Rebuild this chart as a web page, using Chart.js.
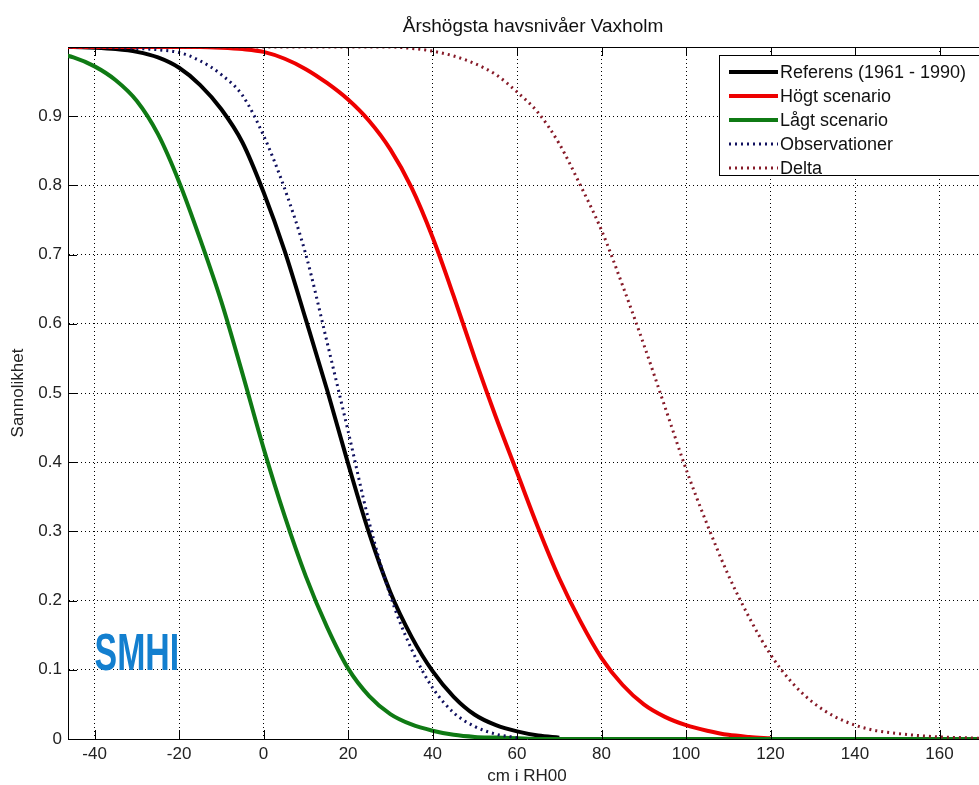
<!DOCTYPE html>
<html>
<head>
<meta charset="utf-8">
<title>Årshögsta havsnivåer Vaxholm</title>
<script src="https://cdn.jsdelivr.net/npm/chart.js@4/dist/chart.umd.min.js"></script>
<style>
  html, body { margin: 0; padding: 0; background: #fff; overflow: hidden; }
  #wrap { position: relative; width: 1000px; height: 785px; }
</style>
</head>
<body>
<div id="wrap"><canvas id="grafico"></canvas></div>
<script>
// Nivå i cm (RH00), gemensam x för alla kurvor
const nivaer = [-50, -45, -40, -35, -30, -25, -20, -15, -10, -5, 0, 5, 10, 15, 20, 25, 30, 35, 40, 45,
    50, 55, 60, 65, 70, 75, 80, 85, 90, 95, 100, 105, 110, 115, 120, 125, 130, 135, 140, 145,
    150, 155, 160, 165, 170, 175, 180];

// Sannolikhet per kurva
const referens = [1, 1, 0.999, 0.997, 0.993, 0.985, 0.97, 0.945, 0.91, 0.862, 0.79, 0.705, 0.606, 0.505,
    0.398, 0.297, 0.212, 0.148, 0.098, 0.061, 0.035, 0.02, 0.011, 0.005, 0.002];
const hogt = [1, 1, 1, 1, 1, 1, 1, 1, 0.999, 0.997, 0.993, 0.983, 0.968, 0.948, 0.924, 0.893, 0.852,
    0.797, 0.725, 0.64, 0.55, 0.465, 0.385, 0.305, 0.232, 0.17, 0.117, 0.078, 0.05, 0.032, 0.02,
    0.012, 0.006, 0.003, 0.001];
const lagt = [0.992, 0.985, 0.972, 0.952, 0.922, 0.874, 0.805, 0.722, 0.632, 0.528, 0.42, 0.322, 0.235,
    0.162, 0.102, 0.062, 0.036, 0.021, 0.012, 0.006, 0.003, 0.002, 0.001, 0, 0, 0, 0, 0, 0, 0, 0, 0, 0,
    0, 0, 0, 0, 0, 0, 0, 0, 0, 0, 0, 0, 0, 0];
const observationer = [1, 1, 1, 0.999, 0.998, 0.996, 0.992, 0.98, 0.96, 0.93, 0.872, 0.795, 0.7, 0.574,
    0.445, 0.313, 0.207, 0.13, 0.074, 0.038, 0.018, 0.007, 0.002];
const delta = [1, 1, 1, 1, 1, 1, 1, 1, 1, 1, 1, 1, 1, 1, 1, 1, 1, 0.998, 0.994, 0.987, 0.976, 0.96,
    0.935, 0.905, 0.86, 0.8, 0.735, 0.655, 0.57, 0.48, 0.39, 0.31, 0.237, 0.175, 0.122, 0.082,
    0.053, 0.033, 0.02, 0.012, 0.008, 0.005, 0.003, 0.002, 0.001, 0.001, 0];

// Axelns skalstreck
const xTicks = [-40, -20, 0, 20, 40, 60, 80, 100, 120, 140, 160];
const yTicks = [0, 0.1, 0.2, 0.3, 0.4, 0.5, 0.6, 0.7, 0.8, 0.9];

const FONT = '"Liberation Sans", Arial, sans-serif';
const punkter = (ys) => ys.map((y, i) => ({ x: nivaer[i], y }));

const datos = {
    datasets: [
        { label: 'Referens (1961 - 1990)', data: punkter(referens), borderColor: '#000000', borderWidth: 4, order: 5 },
        { label: 'Högt scenario', data: punkter(hogt), borderColor: '#ee0000', borderWidth: 4, order: 4 },
        { label: 'Lågt scenario', data: punkter(lagt), borderColor: '#0f7a14', borderWidth: 4, order: 3 },
        { label: 'Observationer', data: punkter(observationer), borderColor: '#10105e', borderWidth: 3, borderDash: [2, 4], order: 2 },
        { label: 'Delta', data: punkter(delta), borderColor: '#861a28', borderWidth: 3, borderDash: [2, 4], order: 1 }
    ]
};

// Ram, inåtriktade skalstreck, titel, logga och förklaring
const ramPlugin = {
    id: 'ram',
    beforeDatasetsDraw(chart) {
        const { ctx, scales: { x, y } } = chart;
        const x0 = x.getPixelForValue(-40), x1 = x.getPixelForValue(-20);
        const yb = y.getPixelForValue(0.1), yt = y.getPixelForValue(0.154);
        ctx.save();
        ctx.fillStyle = '#137fcf';
        ctx.font = 'bold 52px ' + FONT;
        ctx.textBaseline = 'alphabetic';
        const w = ctx.measureText('SMHI').width;
        const h = yb - yt;
        ctx.translate(x0, yb);
        ctx.scale((x1 - x0) / w, h / (52 * 0.716));
        ctx.fillText('SMHI', 0, 0);
        ctx.restore();
    },
    afterDraw(chart) {
        const { ctx, chartArea: a, scales: { x, y } } = chart;
        ctx.save();
        ctx.strokeStyle = '#000';
        ctx.lineWidth = 1;
        ctx.beginPath();
        ctx.moveTo(a.left, a.top + 0.5);
        ctx.lineTo(a.right, a.top + 0.5);
        xTicks.forEach(v => {
            const px = Math.round(x.getPixelForValue(v)) + 0.5;
            ctx.moveTo(px, a.bottom);
            ctx.lineTo(px, a.bottom - 9);
            ctx.moveTo(px, a.top);
            ctx.lineTo(px, a.top + 9);
        });
        yTicks.forEach(v => {
            const py = Math.round(y.getPixelForValue(v)) + 0.5;
            ctx.moveTo(a.left, py);
            ctx.lineTo(a.left + 9, py);
        });
        ctx.stroke();

        // Titel
        ctx.fillStyle = '#111';
        ctx.font = '19px ' + FONT;
        ctx.textAlign = 'center';
        ctx.textBaseline = 'alphabetic';
        ctx.fillText('Årshögsta havsnivåer Vaxholm', (a.left + a.right) / 2 + 6, 32);

        // Förklaring
        const bx = 719, by = 55, bh = 120;
        ctx.fillStyle = '#fff';
        ctx.fillRect(bx, by, 400, bh);
        ctx.strokeRect(bx + 0.5, by + 0.5, 400, bh);
        ctx.font = '18px ' + FONT;
        ctx.textAlign = 'left';
        ctx.textBaseline = 'middle';
        chart.data.datasets.forEach((ds, i) => {
            const ry = by + 17 + i * 24;
            ctx.beginPath();
            ctx.strokeStyle = ds.borderColor;
            ctx.lineWidth = ds.borderWidth;
            ctx.setLineDash(ds.borderDash || []);
            ctx.moveTo(bx + 10, ry);
            ctx.lineTo(bx + 59, ry);
            ctx.stroke();
            ctx.setLineDash([]);
            ctx.fillStyle = '#111';
            ctx.fillText(ds.label, bx + 61, ry + 1);
        });
        ctx.restore();
    }
};

const opciones = {
    responsive: true,
    maintainAspectRatio: false,
    animation: false,
    layout: { padding: { top: 47, right: 14, left: 0, bottom: 0 } },
    elements: {
        point: { radius: 0 },
        line: { cubicInterpolationMode: 'monotone', borderCapStyle: 'butt', fill: false }
    },
    plugins: { legend: { display: false }, tooltip: { enabled: false } },
    scales: {
        x: {
            type: 'linear',
            min: -46.3,
            max: 171,
            afterBuildTicks: (s) => { s.ticks = xTicks.map(v => ({ value: v })); },
            afterFit: (s) => { s.height = 46; },
            grid: { color: '#000', lineWidth: 1, drawTicks: false },
            border: { color: '#000', width: 1, dash: [1, 3] },
            ticks: { color: '#222', font: { family: FONT, size: 17 }, padding: 5, maxRotation: 0, callback: (v) => String(v) },
            title: { display: true, text: 'cm i RH00', color: '#222', font: { family: FONT, size: 17, lineHeight: 1 }, padding: 0 }
        },
        y: {
            min: 0,
            max: 1,
            afterBuildTicks: (s) => { s.ticks = yTicks.map(v => ({ value: v })); },
            afterFit: (s) => { s.width = 68; },
            grid: { color: '#000', lineWidth: 1, drawTicks: false },
            border: { color: '#000', width: 1, dash: [1, 3] },
            ticks: { color: '#222', font: { family: FONT, size: 17 }, padding: 6, callback: (v) => String(v) },
            title: { display: true, text: 'Sannolikhet', color: '#222', font: { family: FONT, size: 17, lineHeight: 1 }, padding: { top: 10, bottom: 0 } }
        }
    }
};

const ctx = document.getElementById('grafico').getContext('2d');
const miGrafico = new Chart(ctx, { type: 'line', data: datos, options: opciones, plugins: [ramPlugin] });
</script>
</body>
</html>
